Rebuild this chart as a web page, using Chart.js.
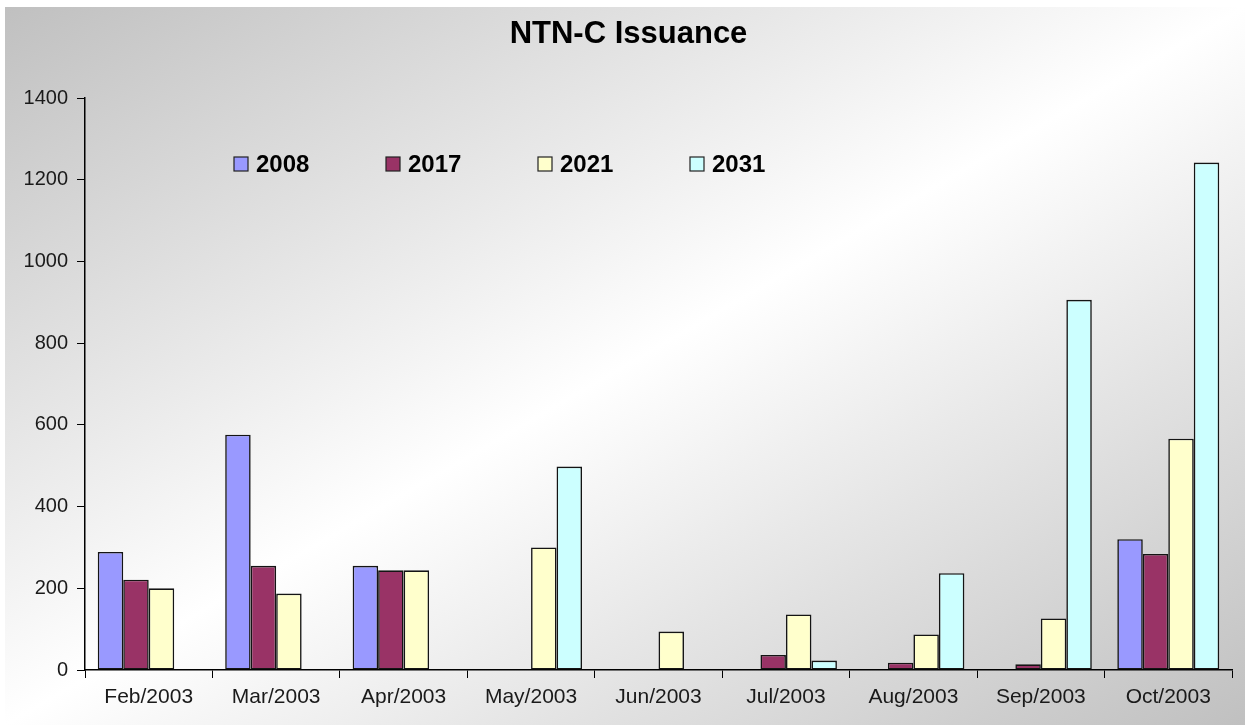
<!DOCTYPE html>
<html>
<head>
<meta charset="utf-8">
<title>NTN-C Issuance</title>
<script src="https://cdn.jsdelivr.net/npm/chart.js@4.4.1/dist/chart.umd.min.js"></script>
<style>
    html, body { margin: 0; padding: 0; background: #fff; }
    #wrap { width: 1245px; height: 725px; position: relative; }
</style>
</head>
<body>
<div id="wrap"><canvas id="myChart"></canvas></div>
<script>
//-------------------------DATA-----------------------------------------------------

var chartTitle = 'NTN-C Issuance';

var months = ['Feb/2003', 'Mar/2003', 'Apr/2003', 'May/2003', 'Jun/2003',
              'Jul/2003', 'Aug/2003', 'Sep/2003', 'Oct/2003'];

var years = ['2008', '2017', '2021', '2031'];

var ntn2008 = [289, 576, 255, null, null, null, null, null, 320];
var ntn2017 = [221, 255, 244, null, null, 37, 18, 14, 284];
var ntn2021 = [200, 187, 244, 300, 94, 136, 87, 126, 566];
var ntn2031 = [null, null, null, 498, null, 23, 237, 906, 1242];

var yTicks = [0, 200, 400, 600, 800, 1000, 1200, 1400];

var colors = ['#9999ff', '#993366', '#ffffcc', '#ccffff'];

//-------------------------PLUGINS--------------------------------------------------

var FONT = "'Liberation Sans', Arial, sans-serif";

// grey -> white -> grey diagonal fill behind everything
var backdrop = {
    id: 'backdrop',
    beforeDraw: function (chart) {
        var ctx = chart.ctx;
        var x0 = 5, y0 = 7, w = chart.width - x0, h = chart.height - y0;
        var cx = x0 + w / 2, cy = y0 + h / 2;
        // gradient runs across the anti-diagonal so the white band goes bottom-left to top-right
        var vx = h, vy = w;
        var k = ((x0 - cx) * vx + (y0 - cy) * vy) / (vx * vx + vy * vy);
        var g = ctx.createLinearGradient(cx + k * vx, cy + k * vy, cx - k * vx, cy - k * vy);
        g.addColorStop(0, '#c0c0c0');
        g.addColorStop(0.5, '#ffffff');
        g.addColorStop(1, '#c0c0c0');
        ctx.save();
        ctx.fillStyle = g;
        ctx.fillRect(x0, y0, w, h);
        ctx.restore();
    }
};

// title, centred on the framed area
var plotTitle = {
    id: 'plotTitle',
    afterDraw: function (chart) {
        var ctx = chart.ctx;
        ctx.save();
        ctx.font = 'bold 31px ' + FONT;
        ctx.fillStyle = '#000';
        ctx.textAlign = 'center';
        ctx.textBaseline = 'middle';
        ctx.fillText(chartTitle, (chart.width + 12) / 2, 34);
        ctx.restore();
    }
};

// legend sits inside the plot, one row across the top
var insideLegend = {
    id: 'insideLegend',
    afterDraw: function (chart) {
        var ctx = chart.ctx;
        var area = chart.chartArea;
        var y = area.top + 66;
        ctx.save();
        ctx.font = 'bold 24px ' + FONT;
        ctx.textBaseline = 'middle';
        ctx.textAlign = 'left';
        chart.data.datasets.forEach(function (ds, i) {
            var x = area.left + 149 + i * 152;
            ctx.fillStyle = ds.backgroundColor;
            ctx.fillRect(x, y - 7, 14, 14);
            ctx.lineWidth = 1.2;
            ctx.strokeStyle = '#222';
            ctx.strokeRect(x, y - 7, 14, 14);
            ctx.fillStyle = '#000';
            ctx.fillText(ds.label, x + 22, y + 1);
        });
        ctx.restore();
    }
};

//-------------------------CHART----------------------------------------------------

var series = [ntn2008, ntn2017, ntn2021, ntn2031];
var datasets = [];
for (let i = 0; i < years.length; i++) {
    datasets.push({
        label: years[i],
        data: series[i],
        backgroundColor: colors[i],
        borderColor: '#141414',
        borderWidth: 1.6,
        borderSkipped: false,
        categoryPercentage: 0.8,
        barPercentage: 1.0
    });
}

var ctx = document.getElementById('myChart').getContext('2d');
var chart = new Chart(ctx, {
    type: 'bar',
    data: {
        labels: months,
        datasets: datasets
    },
    plugins: [backdrop, plotTitle, insideLegend],
    options: {
        responsive: true,
        maintainAspectRatio: false,
        animation: false,
        layout: { padding: { left: 5, right: 13, top: 98, bottom: 0 } },
        plugins: {
            legend: { display: false },
            tooltip: { enabled: false },
            title: { display: false }
        },
        scales: {
            x: {
                grid: { display: true, offset: true, drawOnChartArea: false, tickLength: 8, color: '#000' },
                border: { display: true, color: '#000', width: 1.5 },
                ticks: { color: '#1a1a1a', font: { family: FONT, size: 21 }, padding: 7, maxRotation: 0 },
                afterFit: function (scale) { scale.height = 55; }
            },
            y: {
                min: 0,
                max: 1400,
                afterBuildTicks: function (scale) {
                    scale.ticks = yTicks.map(function (v) { return { value: v }; });
                },
                grid: { display: true, drawOnChartArea: false, tickLength: 8, color: '#000' },
                border: { display: true, color: '#000', width: 1.5 },
                ticks: {
                    color: '#1a1a1a',
                    font: { family: FONT, size: 20 },
                    padding: 9,
                    callback: function (v) { return String(v); }
                },
                afterFit: function (scale) { scale.width = 80; }
            }
        }
    }
});
</script>
</body>
</html>
